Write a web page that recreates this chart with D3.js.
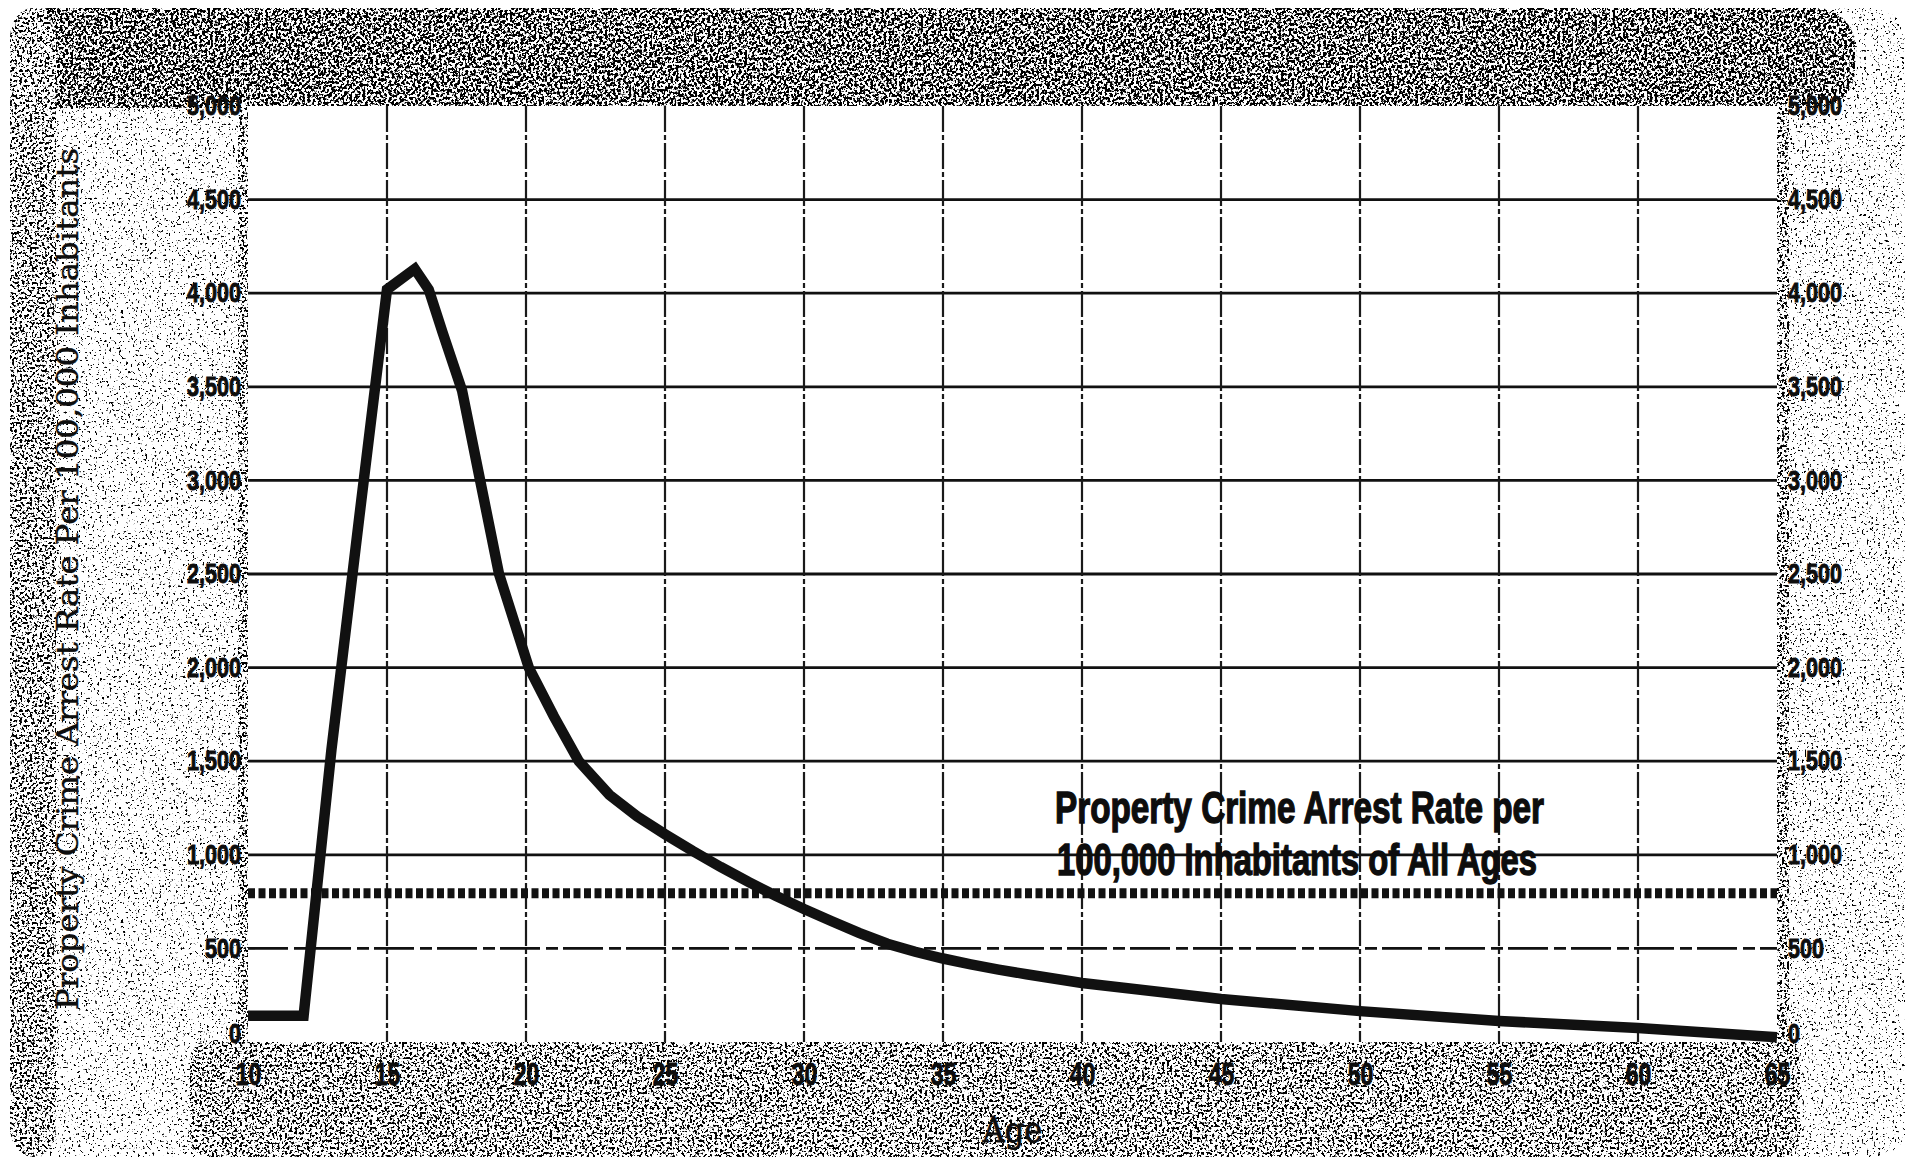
<!DOCTYPE html>
<head>
  <meta charset="utf-8">
  <style>
    body { margin: 0; background: #fff; }
    .num { font-family: 'Liberation Sans', Arial, sans-serif; font-weight: bold; fill: #0d0d0d; stroke: #0d0d0d; stroke-width: 0.9px; }
    .serif { font-family: 'DejaVu Serif', 'Liberation Serif', serif; fill: #0d0d0d; stroke: #0d0d0d; stroke-width: 0.4px; }
  </style>
</head>
<body>
  <script src="https://cdn.jsdelivr.net/npm/d3@7"></script>
  <script>
    const width = 1905;
    const height = 1159;
    const plot = {left: 248, right: 1777, top: 106, bottom: 1042};

    // values (age, arrests per 100,000)
    const ages  = [10, 11, 12, 13, 14, 15, 16, 16.5, 17, 17.7, 18.35, 19.03, 20.1, 21, 21.9, 23, 24, 25, 26, 27, 28, 29, 30, 31, 32, 33, 34, 35, 36, 37, 38, 40, 45, 50, 55, 60, 65];
    const rates = [140, 140, 140, 1560, 2800, 4020, 4130, 4020, 3790, 3480, 3000, 2500, 2000, 1740, 1500, 1320, 1205, 1110, 1020, 935, 855, 780, 710, 645, 582, 525, 482, 446, 415, 387, 362, 315, 230, 165, 112, 75, 25];
    const allAgesRate = 795;
    const xTicks = [10, 15, 20, 25, 30, 35, 40, 45, 50, 55, 60, 65];
    const yTicks = [0, 500, 1000, 1500, 2000, 2500, 3000, 3500, 4000, 4500, 5000];
    const yTitle = "Property Crime Arrest Rate Per 100,000 Inhabitants";
    const xTitle = "Age";
    const noteLines = ["Property Crime Arrest Rate per", "100,000 Inhabitants of All Ages"];

    const svg = d3.select("body").append("svg")
      .attr("width", width)
      .attr("height", height);

    const x = d3.scaleLinear().domain([10, 65]).range([plot.left, plot.right]);
    const y = d3.scaleLinear().domain([0, 5000]).range([plot.bottom, plot.top]);

    //------------------------- scanned paper texture -------------------------//
    const defs = svg.append("defs");
    function speckle(id, threshold, freq, seed) {
      const f = defs.append("filter").attr("id", id)
        .attr("x", 0).attr("y", 0).attr("width", "100%").attr("height", "100%")
        .attr("color-interpolation-filters", "sRGB");
      f.append("feTurbulence").attr("type", "fractalNoise")
        .attr("baseFrequency", freq).attr("numOctaves", 2).attr("seed", seed).attr("result", "n");
      f.append("feColorMatrix").attr("in", "n").attr("type", "matrix")
        .attr("values", "1 0 0 0 0  1 0 0 0 0  1 0 0 0 0  0 0 0 0 1").attr("result", "g");
      const ct = f.append("feComponentTransfer").attr("in", "g").attr("result", "t");
      ["feFuncR", "feFuncG", "feFuncB"].forEach(n =>
        ct.append(n).attr("type", "linear").attr("slope", 16).attr("intercept", 0.5 - 16 * threshold));
      f.append("feComposite").attr("in", "t").attr("in2", "SourceGraphic").attr("operator", "in");
    }
    speckle("light", 0.33, 0.42, 2);
    speckle("medium", 0.44, 0.40, 5);
    speckle("dense", 0.50, 0.38, 9);

    const bg = svg.append("g").attr("id", "paper");
    bg.append("rect").attr("width", width).attr("height", height).attr("fill", "#fff");
    bg.append("rect").attr("x", 10).attr("y", 8).attr("width", 1900).attr("height", 1149)
      .attr("rx", 38).attr("fill", "#000").attr("filter", "url(#light)");
    bg.append("rect").attr("x", 10).attr("y", 8).attr("width", 1845).attr("height", 100)
      .attr("rx", 38).attr("fill", "#000").attr("filter", "url(#dense)");
    bg.append("rect").attr("x", 10).attr("y", 8).attr("width", 46).attr("height", 1149)
      .attr("rx", 30).attr("fill", "#000").attr("filter", "url(#medium)");
    bg.append("rect").attr("x", 190).attr("y", 1040).attr("width", 1610).attr("height", 117)
      .attr("rx", 20).attr("fill", "#000").attr("filter", "url(#medium)");
    bg.append("rect").attr("x", 238).attr("y", 100).attr("width", 12).attr("height", 945)
      .attr("fill", "#000").attr("filter", "url(#medium)");
    bg.append("rect").attr("x", 1775).attr("y", 100).attr("width", 14).attr("height", 945)
      .attr("fill", "#000").attr("filter", "url(#medium)");

    //------------------------------ plot area ------------------------------//
    svg.append("rect")
      .attr("x", plot.left).attr("y", plot.top)
      .attr("width", plot.right - plot.left).attr("height", plot.bottom - plot.top)
      .attr("fill", "#fff");

    const grid = svg.append("g").attr("id", "grid");
    grid.selectAll("line.h")
      .data(yTicks.filter(d => d > 0 && d < 5000)).enter().append("line")
      .attr("class", "h")
      .attr("x1", plot.left).attr("x2", plot.right)
      .attr("y1", d => y(d)).attr("y2", d => y(d))
      .attr("stroke", "#111").attr("stroke-width", 2.8)
      .attr("stroke-dasharray", d => d == 500 ? "40,6,12,5" : null);
    grid.selectAll("line.v")
      .data(xTicks.filter(d => d > 10 && d < 65)).enter().append("line")
      .attr("class", "v")
      .attr("x1", d => x(d)).attr("x2", d => x(d))
      .attr("y1", plot.top).attr("y2", plot.bottom)
      .attr("stroke", "#1a1a1a").attr("stroke-width", 2.2)
      .attr("stroke-dasharray", "26,3,5,3");

    // rate for all ages
    svg.append("line")
      .attr("x1", plot.left).attr("x2", plot.right)
      .attr("y1", y(allAgesRate)).attr("y2", y(allAgesRate))
      .attr("stroke", "#111").attr("stroke-width", 10)
      .attr("stroke-dasharray", "7,3.5");

    const series = ages.map((a, i) => ({age: a, rate: rates[i]}));
    svg.append("path")
      .datum(series)
      .attr("fill", "none")
      .attr("stroke", "#111")
      .attr("stroke-width", 10.5)
      .attr("stroke-linejoin", "miter")
      .attr("d", d3.line().x(d => x(d.age)).y(d => y(d.rate)));

    const note = svg.append("g").attr("class", "num").style("font-size", "44px").style("stroke-width", "1.4px");
    note.append("text").attr("x", 1055).attr("y", 823)
      .attr("textLength", 489).attr("lengthAdjust", "spacingAndGlyphs").text(noteLines[0]);
    note.append("text").attr("x", 1057).attr("y", 875)
      .attr("textLength", 480).attr("lengthAdjust", "spacingAndGlyphs").text(noteLines[1]);

    //-------------------------------- axes --------------------------------//
    const fmt = d3.format(",");
    const yLeft = svg.append("g")
      .attr("transform", "translate(" + plot.left + ",0)")
      .call(d3.axisLeft(y).tickValues(yTicks).tickFormat(fmt).tickSize(0).tickPadding(7));
    const yRight = svg.append("g")
      .attr("transform", "translate(" + plot.right + ",0)")
      .call(d3.axisRight(y).tickValues(yTicks).tickFormat(fmt).tickSize(0).tickPadding(11));
    const xAxis = svg.append("g")
      .attr("transform", "translate(0," + plot.bottom + ")")
      .call(d3.axisBottom(x).tickValues(xTicks).tickSize(0).tickPadding(20));

    [yLeft, yRight, xAxis].forEach(g => {
      g.select(".domain").remove();
      g.attr("font-family", null).attr("font-size", null);
      g.selectAll("text").attr("class", "num").attr("fill", null);
    });
    yLeft.selectAll("text").style("font-size", "27px");
    yRight.selectAll("text").style("font-size", "27px");
    xAxis.selectAll("text").style("font-size", "32px");
    yLeft.selectAll(".tick").filter(d => d == 0).select("text").attr("dy", "0.03em");
    yRight.selectAll(".tick").filter(d => d == 0).select("text").attr("dy", "0.03em");

    // condensed look for the numerals
    function squeeze(sel, k) {
      sel.each(function() {
        const w = this.getComputedTextLength();
        d3.select(this).attr("textLength", w * k).attr("lengthAdjust", "spacingAndGlyphs");
      });
    }
    squeeze(yLeft.selectAll("text"), 0.8);
    squeeze(yRight.selectAll("text"), 0.8);
    squeeze(xAxis.selectAll("text"), 0.72);

    svg.append("text")
      .attr("class", "serif")
      .attr("transform", "translate(78,579) rotate(-90)")
      .attr("text-anchor", "middle")
      .style("font-size", "30px")
      .attr("textLength", 862).attr("lengthAdjust", "spacingAndGlyphs")
      .text(yTitle);

    svg.append("text")
      .attr("class", "serif")
      .attr("x", (plot.left + plot.right) / 2).attr("y", 1142)
      .attr("text-anchor", "middle")
      .style("font-size", "36px")
      .style("stroke-width", "0.8px")
      .attr("textLength", 60).attr("lengthAdjust", "spacingAndGlyphs")
      .text(xTitle);
  </script>
</body>
